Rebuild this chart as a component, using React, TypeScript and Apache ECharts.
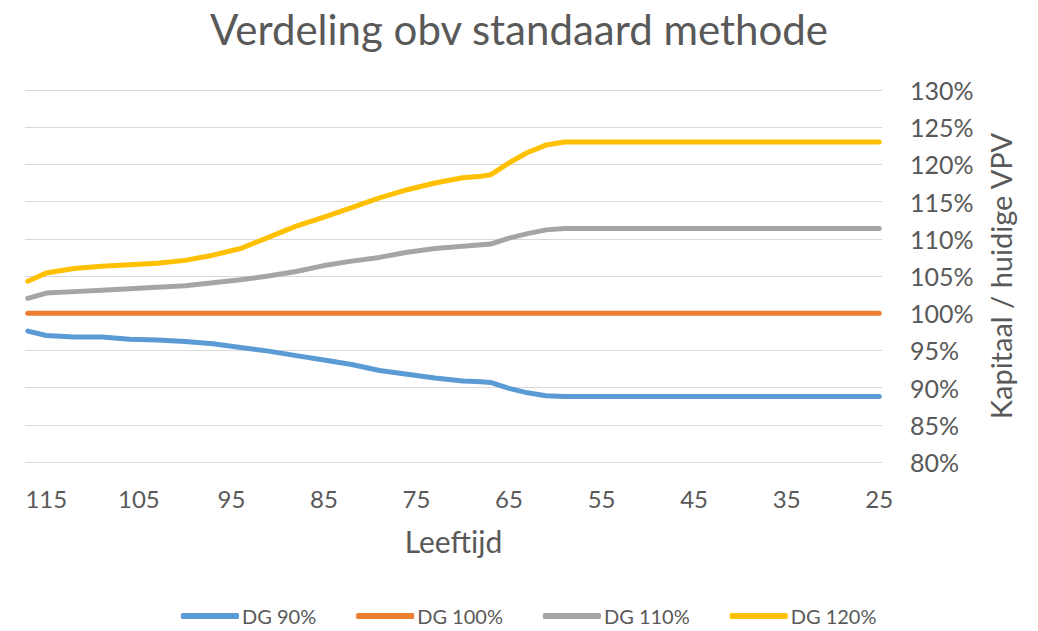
import React, { useEffect, useRef } from "react";
import * as echarts from "echarts";

const ages = [117, 115, 112, 109, 106, 103, 100, 97, 94, 91, 88, 85, 82, 79, 76, 73, 70, 68, 67, 65, 63, 61, 59, 57, 25];
const dg90 = [97.6, 97.0, 96.8, 96.8, 96.5, 96.4, 96.2, 95.9, 95.4, 94.9, 94.3, 93.7, 93.1, 92.3, 91.8, 91.3, 90.9, 90.8, 90.7, 89.9, 89.3, 88.9, 88.8, 88.8, 88.8];
const dg100 = [100, 100, 100, 100, 100, 100, 100, 100, 100, 100, 100, 100, 100, 100, 100, 100, 100, 100, 100, 100, 100, 100, 100, 100, 100];
const dg110 = [102.0, 102.7, 102.9, 103.1, 103.3, 103.5, 103.7, 104.1, 104.5, 105.0, 105.6, 106.4, 107.0, 107.5, 108.2, 108.7, 109.0, 109.2, 109.3, 110.1, 110.7, 111.2, 111.4, 111.4, 111.4];
const dg120 = [104.3, 105.4, 106.0, 106.3, 106.5, 106.7, 107.1, 107.8, 108.7, 110.2, 111.7, 112.9, 114.2, 115.5, 116.6, 117.5, 118.2, 118.4, 118.6, 120.2, 121.6, 122.6, 123.0, 123.0, 123.0];
const xTickLabels = [115, 105, 95, 85, 75, 65, 55, 45, 35, 25];
const seriesNames = ["DG 90%", "DG 100%", "DG 110%", "DG 120%"];
const seriesColors = ["#5B9BD5", "#ED7D31", "#A5A5A5", "#FFC000"];

const FONT = "Lato";
const TEXT = "#595959";

export default function App() {
  const ref = useRef<HTMLDivElement>(null);
  useEffect(() => {
    if (!ref.current) return;
    const chart = echarts.init(ref.current, undefined, { renderer: "svg" });
    const values = [dg90, dg100, dg110, dg120];
    chart.setOption({
      animation: false,
      backgroundColor: "#ffffff",
      textStyle: { fontFamily: FONT, color: TEXT },
      title: {
        text: "Verdeling obv standaard methode",
        left: "center",
        top: 3,
        textStyle: { fontFamily: FONT, fontSize: 42, fontWeight: "normal", color: TEXT },
      },
      legend: {
        data: seriesNames,
        left: 176,
        top: 601,
        icon: "roundRect",
        itemWidth: 58,
        itemHeight: 6,
        itemGap: 40,
        textStyle: { fontFamily: FONT, fontSize: 20, color: TEXT, padding: [0, 0, 0, -2] },
      },
      grid: { left: 25, right: 156, top: 90, bottom: 169, containLabel: false },
      xAxis: {
        type: "value",
        inverse: true,
        min: 24.7,
        max: 117.3,
        name: "Leeftijd",
        nameLocation: "middle",
        nameGap: 64,
        nameTextStyle: { fontFamily: FONT, fontSize: 30, color: TEXT },
        axisLine: { show: false },
        axisTick: { show: false },
        splitLine: { show: false },
        axisLabel: {
          customValues: xTickLabels,
          fontFamily: FONT,
          fontSize: 24,
          color: TEXT,
          margin: 24,
        },
      },
      yAxis: {
        type: "value",
        position: "right",
        min: 80,
        max: 130,
        interval: 5,
        name: "Kapitaal / huidige VPV",
        nameLocation: "middle",
        nameRotate: 90,
        nameGap: 104,
        nameTextStyle: { fontFamily: FONT, fontSize: 29, color: TEXT },
        axisLine: { show: false },
        axisTick: { show: false },
        splitLine: { lineStyle: { color: "#D9D9D9", width: 1 } },
        axisLabel: {
          formatter: "{value}%",
          fontFamily: FONT,
          fontSize: 25,
          color: TEXT,
          margin: 28,
        },
      },
      series: seriesNames.map((name, i) => ({
        name,
        type: "line",
        showSymbol: false,
        symbol: "none",
        color: seriesColors[i],
        lineStyle: { width: 5, color: seriesColors[i], cap: "round", join: "round" },
        data: ages.map((a, j) => [a, values[i][j]]),
      })),
    });
    return () => chart.dispose();
  }, []);
  return (
    <div
      ref={ref}
      style={{ position: "absolute", left: 0, top: 0, width: 1038, height: 631 }}
    />
  );
}
